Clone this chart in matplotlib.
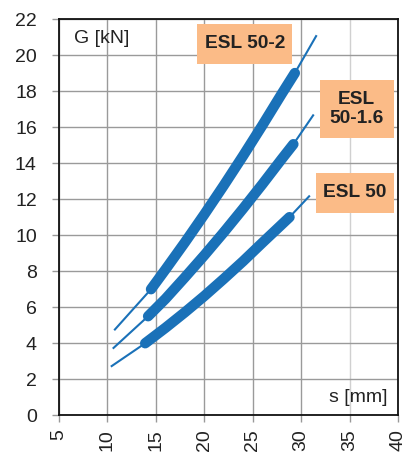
import matplotlib
matplotlib.use("Agg")
import matplotlib.pyplot as plt
from matplotlib.patches import Rectangle

plt.rcParams['font.family'] = ['Liberation Sans', 'DejaVu Sans']

# ESL 50-2
s_2_thin = [10.7, 14.5, 29.35, 31.6]
g_2_thin = [4.72, 7.0, 19.0, 21.1]
s_2 = [14.5, 16, 18, 20, 22, 24, 26, 28, 29.35]
g_2 = [7.0, 8.1, 9.6, 11.15, 12.75, 14.4, 16.1, 17.85, 19.0]

# ESL 50-1.6
s_16_thin = [10.55, 14.2, 29.2, 31.3]
g_16_thin = [3.7, 5.5, 15.05, 16.7]
s_16 = [14.2, 16, 18, 20, 22, 24, 26, 28, 29.2]
g_16 = [5.5, 6.47, 7.66, 8.88, 10.15, 11.47, 12.83, 14.23, 15.05]

# ESL 50
s_50_thin = [10.35, 13.9, 28.8, 30.9]
g_50_thin = [2.7, 4.0, 11.0, 12.2]
s_50 = [13.9, 16, 18, 20, 22, 24, 26, 28.8]
g_50 = [4.0, 4.86, 5.72, 6.62, 7.57, 8.55, 9.58, 11.0]

xticks = [5, 10, 15, 20, 25, 30, 35, 40]
yticks = [0, 2, 4, 6, 8, 10, 12, 14, 16, 18, 20, 22]

blue = '#1a71b8'
peach = '#fbbb87'
txt = '#222222'

fig = plt.figure(figsize=(4.1, 4.59), dpi=100)
ax = fig.add_axes([0.1439, 0.0952, 0.8268, 0.8634])

for st, gt, s, g in [(s_2_thin, g_2_thin, s_2, g_2),
                     (s_16_thin, g_16_thin, s_16, g_16),
                     (s_50_thin, g_50_thin, s_50, g_50)]:
    ax.plot(st, gt, color=blue, lw=1.5, solid_capstyle='butt', zorder=3)
    ax.plot(s, g, color=blue, lw=7.5, solid_capstyle='round', solid_joinstyle='round', zorder=4)

ax.set_xlim(5, 40)
ax.set_ylim(0, 22)
ax.set_xticks(xticks)
ax.set_yticks(yticks)
ax.set_xticklabels([str(t) for t in xticks], rotation=90)
ax.tick_params(axis='both', colors='#999999', labelcolor=txt, labelsize=14, length=5, width=1)
ax.tick_params(axis='y', pad=11)
ax.tick_params(axis='x', pad=5)
ax.grid(True, color='#9a9a9a', lw=1)
ax.get_xgridlines()[6].set_color('#d0d0d0')
ax.set_axisbelow(True)
for sp in ax.spines.values():
    sp.set_color('#111111')
    sp.set_linewidth(1.3)

ax.text(6.6, 20.9, 'G [kN]', fontsize=14, color=txt, ha='left', va='center')
ax.text(38.9, 1.0, 's [mm]', fontsize=14, color=txt, ha='right', va='center')

boxes = [(19.3, 19.5, 9.8, 2.25, 'ESL 50-2'),
         (31.9, 15.4, 7.65, 3.2, 'ESL\n50-1.6'),
         (31.5, 11.25, 8.05, 2.2, 'ESL 50')]
for x0, y0, w, h, label in boxes:
    ax.add_patch(Rectangle((x0, y0), w, h, facecolor=peach, edgecolor='none', zorder=5, clip_on=False))
    ax.text(x0 + w / 2, y0 + h / 2, label, fontsize=13.8, fontweight='bold', color=txt,
            ha='center', va='center', linespacing=1.1, zorder=6)

fig.savefig('out.png', dpi=100)
